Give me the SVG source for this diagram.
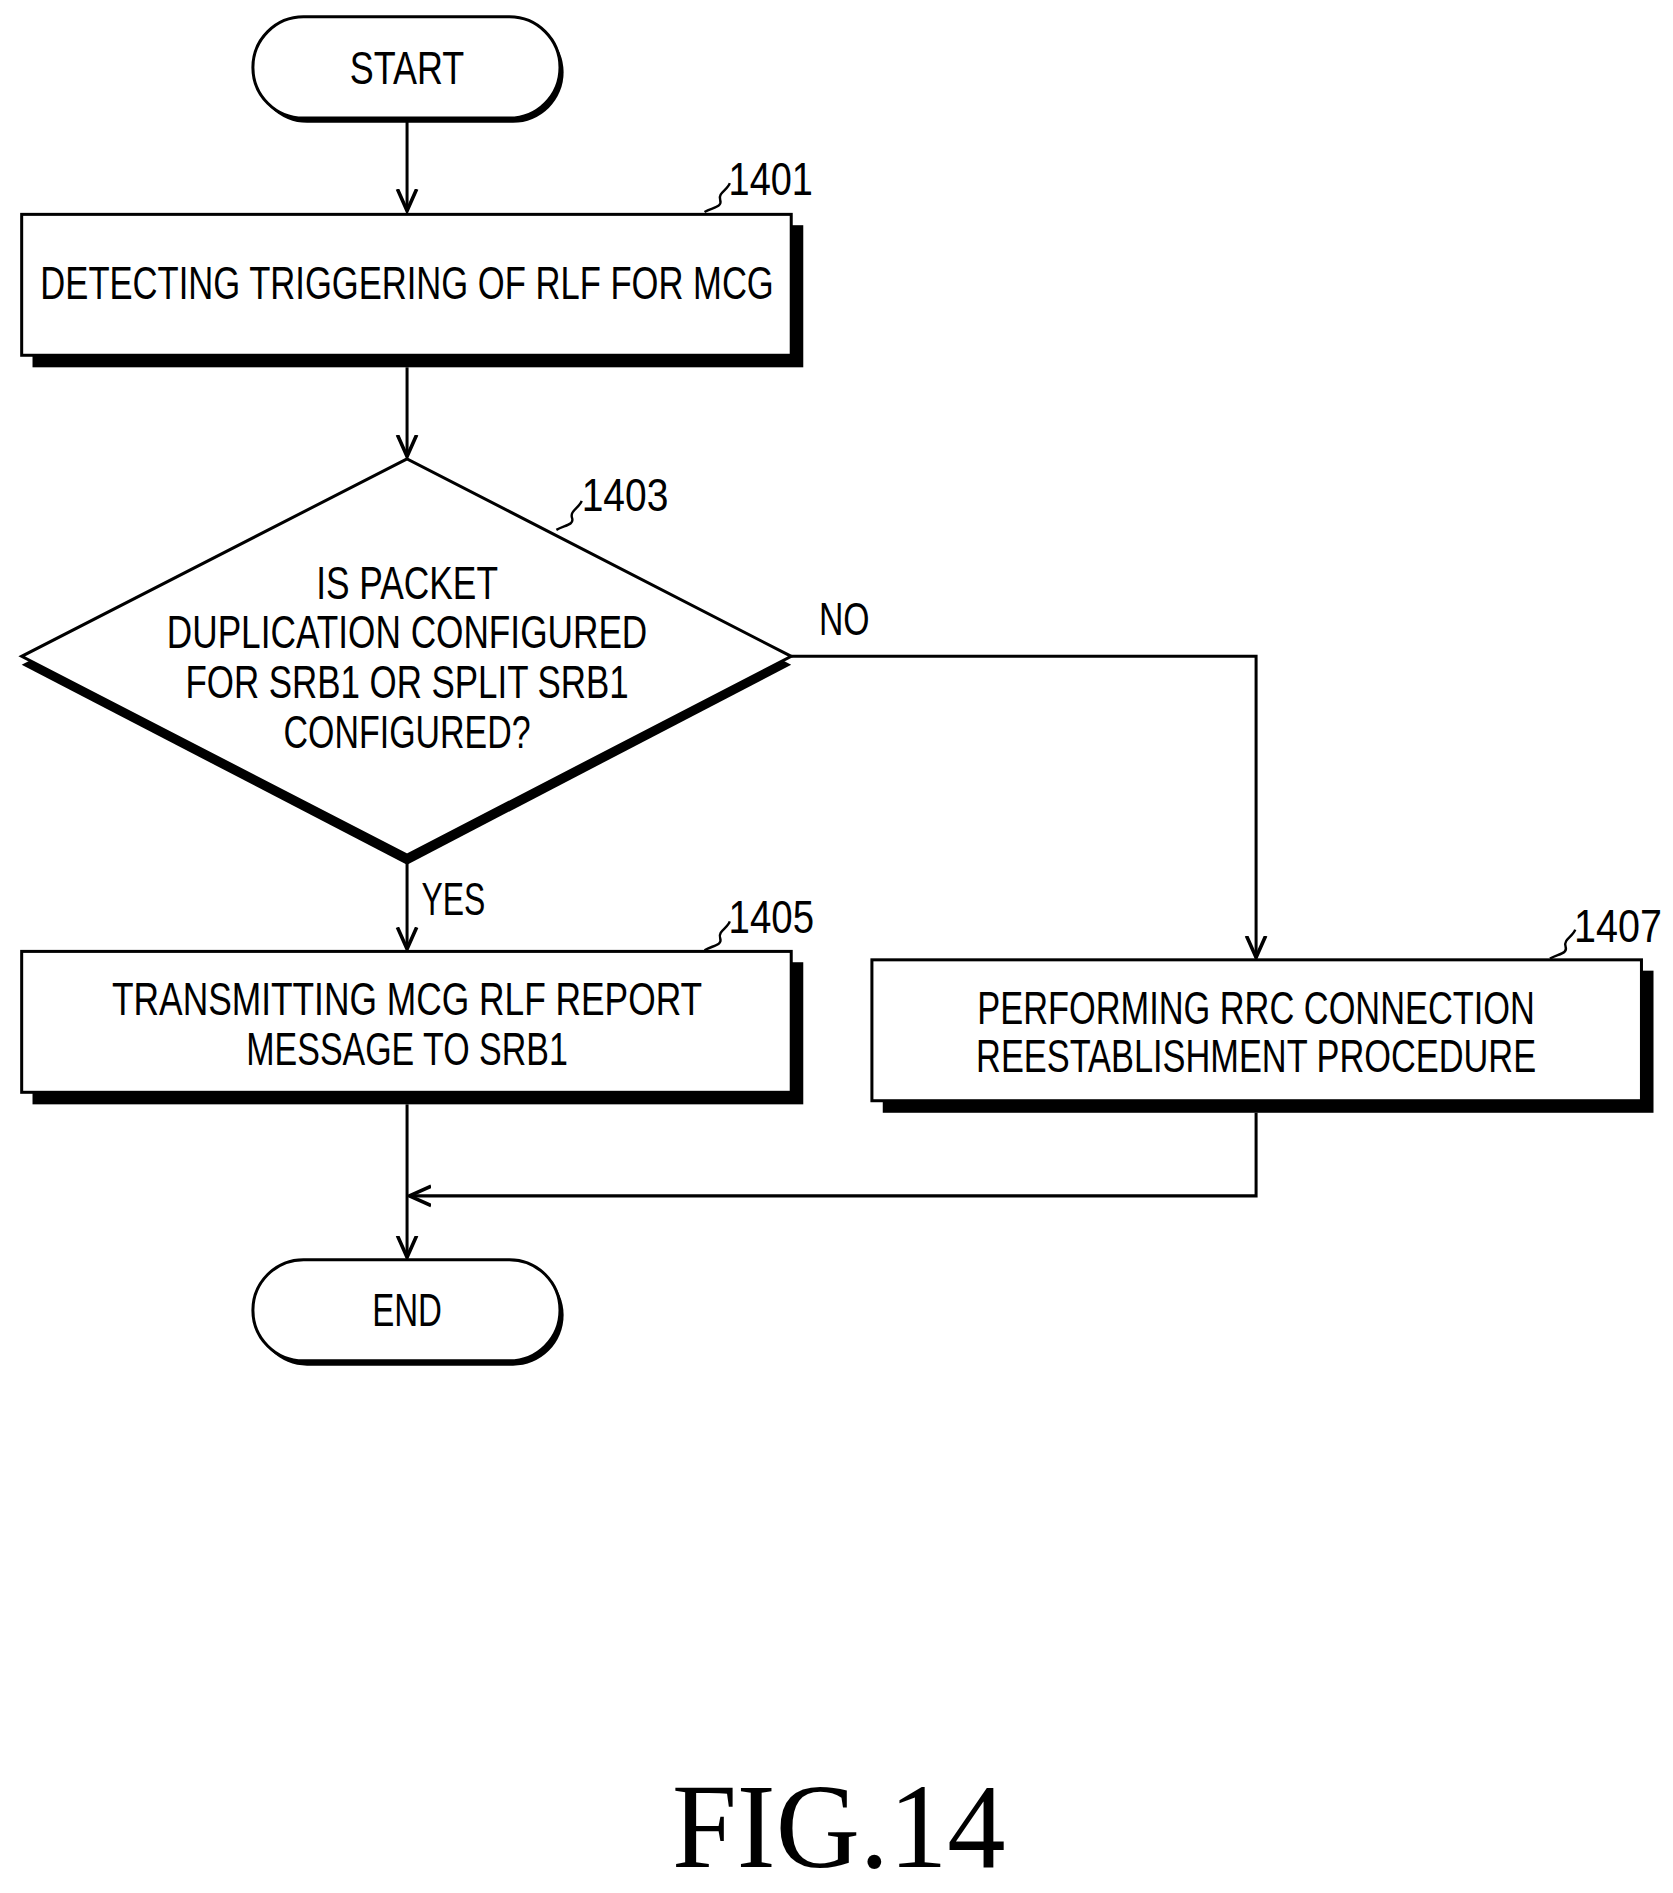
<svg xmlns="http://www.w3.org/2000/svg" width="1673" height="1893" viewBox="0 0 1673 1893">
<style>
.t{font-family:"Liberation Sans Narrow","Liberation Sans",Arial,sans-serif;font-size:38px;fill:#000;text-anchor:middle}
.n{font-family:"Liberation Sans Narrow","Liberation Sans",Arial,sans-serif;font-size:38px;fill:#000}
.box{fill:#fff;stroke:#000;stroke-width:2.5}
.sh{fill:#000}
.ln{fill:none;stroke:#000;stroke-width:2.5}
.sq{fill:none;stroke:#000;stroke-width:2}
</style>
<defs>
<marker id="ah" viewBox="0 0 20 20" refX="18" refY="10" markerWidth="20" markerHeight="20" markerUnits="userSpaceOnUse" orient="auto">
<path d="M0,2 L18,10 L0,18" fill="none" stroke="#000" stroke-width="3"/>
</marker>
</defs>
<rect width="1673" height="1893" fill="#fff"/>
<g transform="scale(1.2043)">
<g id="connectors">
<line class="ln" x1="338" y1="98" x2="338" y2="175" marker-end="url(#ah)"/>
<line class="ln" x1="338" y1="305" x2="338" y2="379" marker-end="url(#ah)"/>
<line class="ln" x1="338" y1="712" x2="338" y2="788" marker-end="url(#ah)"/>
<polyline class="ln" points="657,545 1043,545 1043,795" marker-end="url(#ah)"/>
<line class="ln" x1="338" y1="917" x2="338" y2="1044" marker-end="url(#ah)"/>
<polyline class="ln" points="1043,924 1043,993 340,993" marker-end="url(#ah)"/>
<text class="n" x="680" y="527" textLength="42" lengthAdjust="spacingAndGlyphs">NO</text>
<text class="n" x="350" y="760" textLength="53" lengthAdjust="spacingAndGlyphs">YES</text>
</g>
<g id="start">
<rect class="sh" x="213" y="18" width="255" height="84" rx="42"/>
<rect class="box" x="210" y="14" width="255" height="84" rx="42"/>
<text class="t" x="338" y="70" textLength="95" lengthAdjust="spacingAndGlyphs">START</text>
</g>
<g id="n1401">
<rect class="sh" x="27" y="187" width="640" height="118"/>
<rect class="box" x="18" y="178" width="639" height="117"/>
<text class="t" x="338" y="248" textLength="609" lengthAdjust="spacingAndGlyphs">DETECTING TRIGGERING OF RLF FOR MCG</text>
<path class="sq" d="M585,176 C592,172 600,172 598,166 C596,160 604,158 606,152"/>
<text class="n" x="605" y="162" textLength="70" lengthAdjust="spacingAndGlyphs">1401</text>
</g>
<g id="n1403">
<polygon class="sh" points="338,388 18,552 338,718 657,552"/>
<polygon class="box" points="338,381 18,545 338,710 657,545"/>
<text class="t" x="338" y="497" textLength="151" lengthAdjust="spacingAndGlyphs">IS PACKET</text>
<text class="t" x="338" y="538" textLength="399" lengthAdjust="spacingAndGlyphs">DUPLICATION CONFIGURED</text>
<text class="t" x="338" y="580" textLength="368" lengthAdjust="spacingAndGlyphs">FOR SRB1 OR SPLIT SRB1</text>
<text class="t" x="338" y="621" textLength="205" lengthAdjust="spacingAndGlyphs">CONFIGURED?</text>
<path class="sq" d="M462,440 C469,436 477,436 475,430 C473,424 481,422 483,416"/>
<text class="n" x="483" y="424" textLength="72" lengthAdjust="spacingAndGlyphs">1403</text>
</g>
<g id="n1405">
<rect class="sh" x="27" y="799" width="640" height="118"/>
<rect class="box" x="18" y="790" width="639" height="117"/>
<text class="t" x="338" y="843" textLength="490" lengthAdjust="spacingAndGlyphs">TRANSMITTING MCG RLF REPORT</text>
<text class="t" x="338" y="884" textLength="267" lengthAdjust="spacingAndGlyphs">MESSAGE TO SRB1</text>
<path class="sq" d="M585,789 C592,785 600,785 598,779 C596,773 604,771 606,765"/>
<text class="n" x="605" y="775" textLength="71" lengthAdjust="spacingAndGlyphs">1405</text>
</g>
<g id="n1407">
<rect class="sh" x="733" y="806" width="640" height="118"/>
<rect class="box" x="724" y="797" width="639" height="117"/>
<text class="t" x="1043" y="850" textLength="463" lengthAdjust="spacingAndGlyphs">PERFORMING RRC CONNECTION</text>
<text class="t" x="1043" y="890" textLength="465" lengthAdjust="spacingAndGlyphs">REESTABLISHMENT PROCEDURE</text>
<path class="sq" d="M1287,796 C1294,792 1302,792 1300,786 C1298,780 1306,778 1308,772"/>
<text class="n" x="1307" y="782" textLength="73" lengthAdjust="spacingAndGlyphs">1407</text>
</g>
<g id="end">
<rect class="sh" x="213" y="1050" width="255" height="84" rx="42"/>
<rect class="box" x="210" y="1046" width="255" height="84" rx="42"/>
<text class="t" x="338" y="1101" textLength="58" lengthAdjust="spacingAndGlyphs">END</text>
</g>
<text x="558" y="1550" font-family="Liberation Serif,serif" font-size="100" textLength="277" lengthAdjust="spacingAndGlyphs">FIG.14</text>
</g>
</svg>
